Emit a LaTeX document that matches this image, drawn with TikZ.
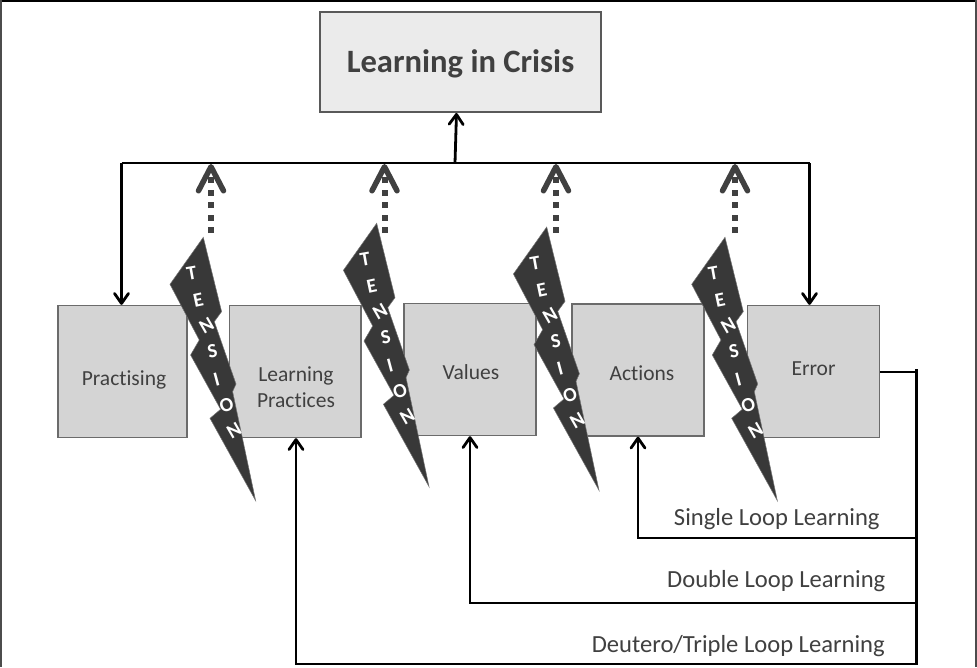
\documentclass[tikz,border=0pt]{standalone}
\usepackage{fontspec}
\setmainfont[Ligatures=NoCommon]{Carlito}
\usetikzlibrary{arrows.meta}
\definecolor{inkgray}{HTML}{404040}
\definecolor{boltgray}{HTML}{383838}
\newcommand{\placed}[2]{\raisebox{-#1}[0pt][0pt]{#2}}
\tikzset{
  x=1pt,y=-1pt,
  boxbase/.style={draw=black!58,line width=1.3pt,fill=black!17,text=inkgray,inner sep=0pt,font=\fontsize{21.5}{26}\selectfont},
  titlebox/.style={draw=black!65,line width=1.2pt,fill=black!8,text=inkgray,inner sep=0pt,minimum width=281pt,minimum height=100pt,font=\bfseries\fontsize{32.6}{38}\selectfont},
  stagebox/.style={boxbase,minimum width=#1,minimum height=132pt},
  flow/.style={draw=black,line width=2.8pt,-{Straight Barb[length=10pt,width=14pt,line width=2.8pt,round]}},
  wire/.style={draw=black,line width=2.8pt},
  trunk/.style={draw=black,line width=3.5pt},
  pressure/.style={draw=inkgray,line width=6pt,dash pattern=on 6pt off 6.5pt,-{Straight Barb[length=24pt,width=25pt,line width=5.5pt,round]}},
  boltfill/.style={fill=boltgray,draw=black!55,line width=.5pt},
  boltletter/.style={text=white,inner sep=0pt,font=\bfseries\fontsize{20}{20}\selectfont},
  looplabel/.style={text=inkgray,inner sep=0pt,anchor=base,font=\fontsize{24.6}{29}\selectfont},
  frameline/.style={draw=black!70,line width=1.6pt}
}
\newcommand{\tensionbolt}[3]{%
  \begin{scope}[shift={(#1,#2)}]
    \coordinate (#3top) at (0,0);
    \path[boltfill] (0,0) -- (-33.3,47) -- (-4,102.7) -- (-12.7,117.7) -- (17.3,172) -- (6.7,181) -- (52.3,263.3)
      -- (29.3,154.3) -- (32.7,146.7) -- (11,84.3) -- (18.3,74.3) -- cycle;
    \node[boltletter,rotate=10] (#3l1) at (-11.7,36) {T};
    \node[boltletter,rotate=12] (#3l2) at (-5,62.7) {E};
    \node[boltletter,rotate=30] (#3l3) at (3.3,88.3) {N};
    \node[boltletter,rotate=12] (#3l4) at (9,114.3) {S};
    \node[boltletter,rotate=15] (#3l5) at (13.3,142) {I};
    \node[boltletter,rotate=20] (#3l6) at (23.3,167.7) {O};
    \node[boltletter,rotate=30] (#3l7) at (30.7,193.7) {N};
  \end{scope}}
\begin{document}
\begin{tikzpicture}
\useasboundingbox (0,0) rectangle (977,667);
\fill[white] (0,0) rectangle (977,667);
\draw[draw=black,line width=3pt] (0,.8) -- (977,.8);
\draw[frameline] (1,0) -- (1,667);
\draw[frameline] (976,0) -- (976,667);

% boxes
\node[titlebox] (title) at (460.5,62) {\placed{10.7pt}{Learning in Crisis}};
\node[stagebox=129pt] (prac) at (122.5,371.5) {\placed{13.5pt}{\hspace{3pt}Practising}};
\node[stagebox=131.5pt] (lp) at (295.2,371.5) {\placed{22.5pt}{\hspace{1.5pt}\begin{tabular}{@{}c@{}}Learning\\Practices\end{tabular}}};
\node[stagebox=132pt] (vals) at (470,369.5) {\placed{9.5pt}{\hspace{2pt}Values}};
\node[stagebox=132pt] (acts) at (638,370) {\placed{10pt}{\hspace{8pt}Actions}};
\node[stagebox=132pt] (err) at (813.5,371.5) {\placed{4.2pt}{Error}};

% rail and trunk coordinates
\coordinate (railL) at (121.5,163);
\coordinate (railR) at (809.5,163);
\coordinate (railM) at (455,163);
\coordinate (trunkTop) at (916.5,369);
\coordinate (trunkBot) at (916.5,665);
\coordinate (singleR) at (916.5,538);
\coordinate (singleL) at (638,538);
\coordinate (doubleR) at (916.5,603);
\coordinate (doubleL) at (470,603);
\coordinate (tripleR) at (916.5,664);
\coordinate (tripleL) at (296,664);

\draw[wire] (railL) -- (railR);
\draw[flow] (railM) -- (456.5,113);
\draw[flow] (railL) -- (railL |- prac.north);
\draw[flow] (railR) -- (railR |- err.north);
\draw[wire] (err.east |- 0,372) -- (916.5,372);
\draw[trunk] (trunkTop) -- (trunkBot);
\draw[flow] (singleR) -- (singleL) -- (singleL |- acts.south);
\draw[flow] (doubleR) -- (doubleL) -- (doubleL |- vals.south);
\draw[flow] (tripleR) -- (tripleL) -- (tripleL |- lp.south);

% pressure arrows
\coordinate (p1) at (211,233); \coordinate (q1) at (211,164);
\coordinate (p2) at (384.5,233); \coordinate (q2) at (384.5,164);
\coordinate (p3) at (556,233); \coordinate (q3) at (556,164);
\coordinate (p4) at (735,233); \coordinate (q4) at (735,164);
\foreach \k in {1,2,3,4}{\draw[pressure] (p\k) -- (q\k);}

% bolts
\tensionbolt{203.3}{237.3}{ba}
\tensionbolt{376.7}{223.3}{bb}
\tensionbolt{546.7}{227}{bc}
\tensionbolt{725}{237.3}{bd}

% loop labels
\node[looplabel] (single) at (776.8,525.8) {Single Loop Learning};
\node[looplabel] (double) at (776.3,587.8) {Double Loop Learning};
\node[looplabel] (triple) at (738.3,652.8) {Deutero/Triple Loop Learning};
\end{tikzpicture}
\end{document}
